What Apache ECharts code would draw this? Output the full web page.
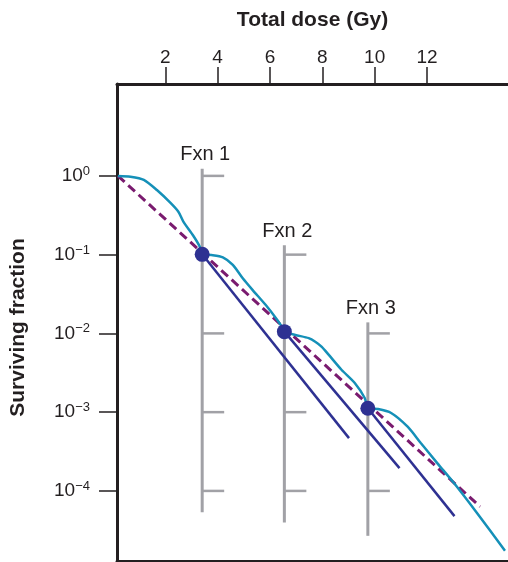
<!DOCTYPE html>
<html>
<head>
<meta charset="utf-8">
<script src="https://cdn.jsdelivr.net/npm/echarts@6/dist/echarts.min.js"></script>
<style>html,body{margin:0;padding:0;background:#fff}#c{width:508px;height:562px}</style>
</head>
<body>
<div id="c"></div>
<script>
// ---- data (dose in Gy, survival as log10 of surviving fraction) ----
const xTicks = [2, 4, 6, 8, 10, 12];
const yTickExps = [0, -1, -2, -3, -4];

// multi-fraction survival curve (solid teal)
const curveDose = [0.19, 0.67, 1.18, 1.68, 2.19, 2.50, 2.69, 3.07, 3.32, 3.41,
  3.76, 4.20, 4.58, 4.96, 5.34, 5.84, 6.28, 6.50, 6.55,
  6.97, 7.48, 7.73, 7.98, 8.24, 8.74, 9.24, 9.62, 9.75,
  10.13, 10.63, 11.26, 11.77, 12.40, 13.03, 13.91, 14.98];
const curveLog = [0.00, -0.01, -0.05, -0.18, -0.34, -0.455, -0.58, -0.76, -0.90, -0.996,
  -1.005, -1.034, -1.13, -1.30, -1.45, -1.64, -1.83, -1.94, -1.978,
  -2.02, -2.06, -2.105, -2.17, -2.27, -2.465, -2.63, -2.82, -2.951,
  -2.96, -3.01, -3.185, -3.395, -3.65, -3.90, -4.28, -4.76];

// effective survival line (dashed)
const effDose = [0.19, 14.03];
const effLog = [0.00, -4.20];

// fractions
const fxnLabels = ['Fxn 1', 'Fxn 2', 'Fxn 3'];
const fxnDose = [3.41, 6.55, 9.74];
const fxnTop = [0.09, -0.88, -1.86];
const fxnBottom = [-4.27, -4.40, -4.57];
const fxnStubs = [[0, -2, -3, -4], [-1, -3, -4], [-2, -4]];
const dotLog = [-0.996, -1.978, -2.951];

// single-dose tails after each fraction (dark blue)
const tailEndDose = [9.02, 10.95, 13.05];
const tailEndLog = [-3.33, -3.71, -4.32];

const etcPoint = [13.74, -3.84];

// ---- chart ----
const FONT = '"Liberation Sans", Arial, Helvetica, sans-serif';
const INK = '#231f20';
const GRAY = '#a1a1a6';
const TEAL = '#1590b8';
const NAVY = '#2e3192';
const PURPLE = '#7a1b6f';

const chart = echarts.init(document.getElementById('c'), null, {renderer: 'canvas'});

const supText = e => (e === 0 ? '0' : '\u2212' + (-e));

const series = [];

series.push({
  type: 'custom',
  name: 'fractions',
  xAxisIndex: 0,
  data: fxnDose.map((d, i) => [d, fxnTop[i], fxnBottom[i], i]),
  encode: {x: 0, y: [1, 2]},
  renderItem: function (params, api) {
    const i = api.value(3);
    const x = api.value(0);
    const p1 = api.coord([x, api.value(1)]);
    const p2 = api.coord([x, api.value(2)]);
    const children = [{
      type: 'line',
      shape: {x1: p1[0], y1: p1[1], x2: p2[0], y2: p2[1]},
      style: {stroke: GRAY, lineWidth: 3}
    }];
    fxnStubs[i].forEach(e => {
      const p = api.coord([x, e]);
      children.push({
        type: 'line',
        shape: {x1: p[0], y1: p[1], x2: p[0] + 22, y2: p[1]},
        style: {stroke: GRAY, lineWidth: 2.5}
      });
    });
    children.push({
      type: 'text',
      style: {
        text: fxnLabels[i], x: p1[0] + 3, y: p1[1] - 14,
        align: 'center', verticalAlign: 'middle',
        font: '20px ' + FONT, fill: INK
      }
    });
    return {type: 'group', children: children};
  },
  z: 1
});

series.push({
  type: 'line',
  data: effDose.map((d, i) => [d, effLog[i]]),
  symbol: 'none',
  lineStyle: {color: PURPLE, width: 3, type: [9, 5]},
  z: 2
});

tailEndDose.forEach((d, i) => {
  series.push({
    type: 'line',
    data: [[fxnDose[i], dotLog[i]], [d, tailEndLog[i]]],
    symbol: 'none',
    lineStyle: {color: NAVY, width: 2.5},
    z: 3
  });
});

series.push({
  type: 'line',
  data: curveDose.map((d, i) => [d, curveLog[i]]),
  symbol: 'none',
  smooth: 0.25,
  lineStyle: {color: TEAL, width: 2.5},
  z: 4
});

series.push({
  type: 'scatter',
  data: fxnDose.map((d, i) => [d, dotLog[i]]),
  symbolSize: 15,
  itemStyle: {color: NAVY, opacity: 1},
  z: 5
});

series.push({
  type: 'scatter',
  data: [etcPoint],
  symbolSize: 1,
  itemStyle: {opacity: 0},
  label: {
    show: true, formatter: 'etc.', position: 'right', distance: 0,
    fontFamily: FONT, fontSize: 20, color: INK
  },
  z: 5
});

chart.setOption({
  animation: false,
  backgroundColor: '#fff',
  grid: {left: 113, top: 84, right: 0, bottom: 1, containLabel: false},
  xAxis: [{
    type: 'value',
    position: 'top',
    min: 0.155, max: 15.095,
    name: 'Total dose (Gy)',
    nameLocation: 'middle',
    nameGap: 53,
    nameTextStyle: {fontFamily: FONT, fontSize: 21, fontWeight: 'bold', color: INK},
    axisLine: {show: true, onZero: false, lineStyle: {color: INK, width: 3}},
    axisTick: {show: true, inside: false, length: 17, customValues: xTicks, lineStyle: {color: INK, width: 1.5}},
    axisLabel: {show: true, margin: 17, customValues: xTicks, fontFamily: FONT, fontSize: 19, color: INK},
    splitLine: {show: false}
  }, {
    type: 'value',
    position: 'bottom',
    min: 0.155, max: 15.095,
    axisLine: {show: true, onZero: false, lineStyle: {color: INK, width: 3}},
    axisTick: {show: false},
    axisLabel: {show: false},
    splitLine: {show: false}
  }],
  yAxis: {
    type: 'value',
    min: -4.8898, max: 1.1666,
    name: 'Surviving fraction',
    nameLocation: 'middle',
    nameGap: 88,
    nameTextStyle: {fontFamily: FONT, fontSize: 21, fontWeight: 'bold', color: INK, padding: [0, 10, 0, 0]},
    axisLine: {show: true, onZero: false, lineStyle: {color: INK, width: 3}},
    axisTick: {show: true, inside: false, length: 18, customValues: yTickExps, lineStyle: {color: INK, width: 1.5}},
    axisLabel: {
      show: true, margin: 27, customValues: yTickExps,
      formatter: v => '{b|10}{s|' + supText(Math.round(v)) + '}',
      rich: {
        b: {fontFamily: FONT, fontSize: 19, color: INK, lineHeight: 22},
        s: {fontFamily: FONT, fontSize: 13, color: INK, lineHeight: 18, verticalAlign: 'top'}
      }
    },
    splitLine: {show: false}
  },
  series: series
});
</script>
</body>
</html>
